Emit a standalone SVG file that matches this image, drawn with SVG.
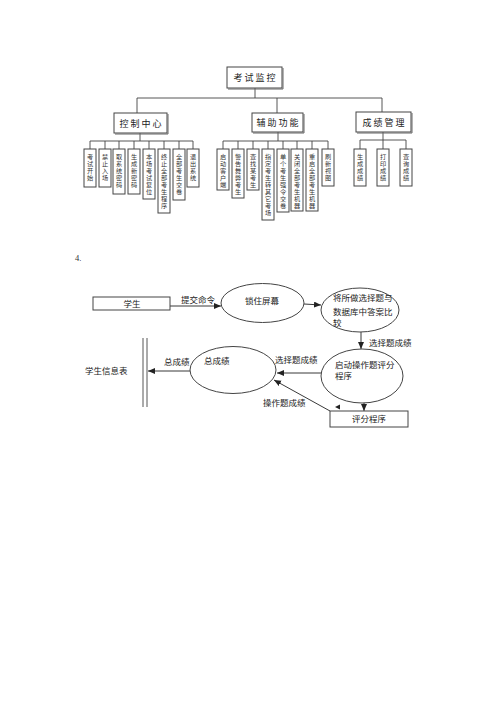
<svg xmlns="http://www.w3.org/2000/svg" width="500" height="707" viewBox="0 0 500 707">
<defs>
<marker id="ah" markerUnits="userSpaceOnUse" markerWidth="8" markerHeight="7" refX="7" refY="3" orient="auto">
<path d="M0,0 L7,3 L0,6 z" fill="#222"/>
</marker>
<style>
.bx{fill:#fff;stroke:#444;stroke-width:1}
.ln{fill:none;stroke:#444;stroke-width:0.9}
.t1{font-family:"Noto Sans CJK SC",sans-serif;font-size:9px;fill:#222;text-anchor:middle;letter-spacing:2px}
.lf{font-family:"Noto Sans CJK SC",sans-serif;font-size:6.2px;fill:#333;writing-mode:vertical-rl;text-orientation:upright;dominant-baseline:central;letter-spacing:0.7px}
.t2{font-family:"Noto Sans CJK SC",sans-serif;font-size:8.5px;fill:#222}
.c{text-anchor:middle}
.ar{fill:none;stroke:#222;stroke-width:0.9;marker-end:url(#ah)}
.sh{fill:none;stroke:#666;stroke-width:1}
</style>
</defs>
<rect width="500" height="707" fill="#fff"/>

<g id="tree-connectors">
<path class="ln" d="M255,88 V98 M137,98 H382 M137,98 V113 M277,98 V113 M382,98 V112"/>
<path class="ln" d="M140,133 V141 M90,141 H193 M90,141 V149 M105,141 V149 M119,141 V149 M134,141 V149 M149,141 V149 M164,141 V149 M179,141 V149 M193,141 V149"/>
<path class="ln" d="M278,132 V141 M223,141 H328 M223,141 V149 M238,141 V149 M253,141 V149 M268,141 V149 M283,141 V149 M297,141 V149 M312,141 V149 M328,141 V149"/>
<path class="ln" d="M383,132 V140 M360,140 H406 M360,140 V149 M383,140 V149 M406,140 V149"/>
</g>

<g id="n-root"><rect class="bx" x="227" y="67" width="55" height="21"/><path class="sh" d="M283,68 V89 H228"/><text class="t1" x="255.5" y="81">考试监控</text></g>
<g id="n-ctrl"><rect class="bx" x="114" y="113" width="53" height="20"/><path class="sh" d="M168,114 V134 H115"/><text class="t1" x="141.5" y="126.5">控制中心</text></g>
<g id="n-aux"><rect class="bx" x="252" y="113" width="51" height="19"/><path class="sh" d="M304,114 V133 H253"/><text class="t1" x="278.5" y="126">辅助功能</text></g>
<g id="n-score"><rect class="bx" x="356" y="112" width="55" height="20"/><path class="sh" d="M412,113 V133 H357"/><text class="t1" x="384.5" y="125.5">成绩管理</text></g>

<g id="l1"><rect class="bx" x="84" y="149" width="12" height="38"/><text class="lf" x="90" y="154">考试开始</text></g>
<g id="l2"><rect class="bx" x="99" y="149" width="12" height="38"/><text class="lf" x="105" y="154">禁止入场</text></g>
<g id="l3"><rect class="bx" x="113" y="149" width="12" height="45"/><text class="lf" x="119" y="154">取系统密码</text></g>
<g id="l4"><rect class="bx" x="128" y="149" width="12" height="45"/><text class="lf" x="134" y="154">生成新密码</text></g>
<g id="l5"><rect class="bx" x="143" y="149" width="12" height="50"/><text class="lf" x="149" y="154">本场考试复位</text></g>
<g id="l6"><rect class="bx" x="158" y="149" width="12" height="64"/><text class="lf" x="164" y="154">终止全部考生程序</text></g>
<g id="l7"><rect class="bx" x="173" y="149" width="12" height="51"/><text class="lf" x="179" y="154">全部考生交卷</text></g>
<g id="l8"><rect class="bx" x="187" y="149" width="12" height="38"/><text class="lf" x="193" y="154">退出系统</text></g>

<g id="a1"><rect class="bx" x="217" y="149" width="12" height="41"/><text class="lf" x="223" y="154">启动客户端</text></g>
<g id="a2"><rect class="bx" x="232" y="149" width="12" height="49"/><text class="lf" x="238" y="154">警告舞弊考生</text></g>
<g id="a3"><rect class="bx" x="247" y="149" width="12" height="41"/><text class="lf" x="253" y="154">查找某考生</text></g>
<g id="a4"><rect class="bx" x="262" y="149" width="12" height="71"/><text class="lf" x="268" y="154">指定考生转其它考场</text></g>
<g id="a5"><rect class="bx" x="277" y="149" width="12" height="63"/><text class="lf" x="283" y="154">单个考生强令交卷</text></g>
<g id="a6"><rect class="bx" x="291" y="149" width="12" height="62"/><text class="lf" x="297" y="154">关闭全部考生机器</text></g>
<g id="a7"><rect class="bx" x="306" y="149" width="12" height="62"/><text class="lf" x="312" y="154">重启全部考生机器</text></g>
<g id="a8"><rect class="bx" x="322" y="149" width="12" height="37"/><text class="lf" x="328" y="154">刷新视图</text></g>

<g id="s1"><rect class="bx" x="354" y="149" width="12" height="37"/><text class="lf" x="360" y="154">生成成绩</text></g>
<g id="s2"><rect class="bx" x="377" y="149" width="12" height="37"/><text class="lf" x="383" y="154">打印成绩</text></g>
<g id="s3"><rect class="bx" x="400" y="149" width="12" height="37"/><text class="lf" x="406" y="154">查询成绩</text></g>

<text x="75" y="261" font-family="Liberation Serif, serif" font-size="8.5" fill="#333">4.</text>

<g id="flow-connectors">
<line class="ar" x1="170" y1="306" x2="221" y2="306"/>
<line class="ar" x1="304" y1="304" x2="321" y2="305"/>
<line class="ar" x1="361" y1="332" x2="361" y2="349"/>
<line class="ar" x1="321" y1="373" x2="277" y2="373"/>
<line class="ar" x1="190" y1="371" x2="148" y2="371"/>
<line class="ar" x1="364" y1="402" x2="364" y2="411"/>
<line class="ar" x1="330" y1="411" x2="274" y2="380"/>
<polygon points="335,407 340,404.5 340,409.5" fill="#222"/>
<text class="t2" x="181" y="303">提交命令</text>
<text class="t2" x="369" y="346">选择题成绩</text>
<text class="t2" x="275" y="363">选择题成绩</text>
<text class="t2" x="164" y="365">总成绩</text>
<text class="t2" x="263" y="406">操作题成绩</text>
</g>

<g id="f-student"><rect class="bx" x="93" y="297" width="77" height="13"/><text class="t2 c" x="132" y="307">学生</text></g>
<g id="f-lock"><ellipse class="bx" cx="262.5" cy="303" rx="41.5" ry="19.5"/><text class="t2 c" x="262" y="304">锁住屏幕</text></g>
<g id="f-compare"><ellipse class="bx" cx="360" cy="310" rx="39" ry="22"/><text class="t2" x="333" y="301">将所做选择题与</text><text class="t2" x="333" y="315">数据库中答案比</text><text class="t2" x="333" y="326">较</text></g>
<g id="f-start"><ellipse class="bx" cx="362" cy="376" rx="41" ry="27"/><text class="t2" x="335" y="368">启动操作题评分</text><text class="t2" x="335" y="379">程序</text></g>
<g id="f-total"><ellipse class="bx" cx="233" cy="370" rx="43" ry="23.5"/><text class="t2" x="204" y="364">总成绩</text></g>
<g id="f-table"><line class="ln" x1="143" y1="338" x2="143" y2="407"/><line class="ln" x1="147" y1="338" x2="147" y2="407"/><text class="t2" x="85" y="374">学生信息表</text></g>
<g id="f-grade"><rect class="bx" x="330" y="411" width="78" height="16"/><text class="t2 c" x="369" y="422">评分程序</text></g>
</svg>
